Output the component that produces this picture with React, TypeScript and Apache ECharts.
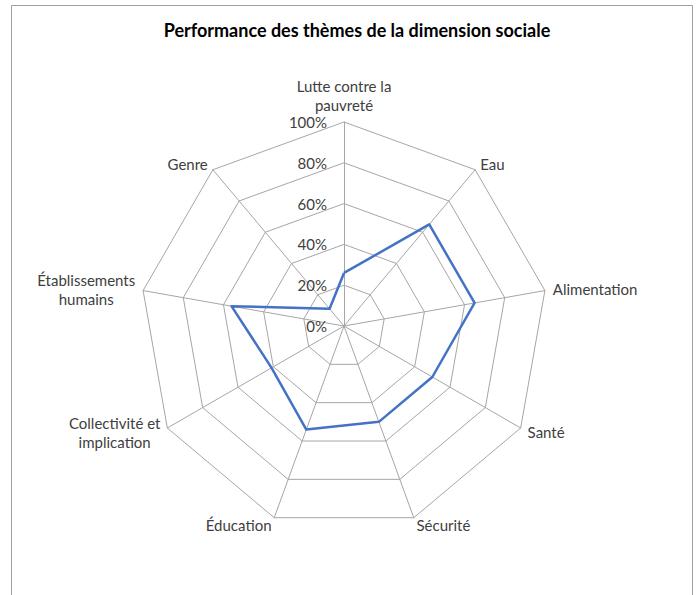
import React, { useEffect, useRef } from 'react';
import * as echarts from 'echarts';

const chartTitle = 'Performance des thèmes de la dimension sociale';
const themes = [
  'Lutte contre la\npauvreté',
  'Eau',
  'Alimentation',
  'Santé',
  'Sécurité',
  'Éducation',
  'Collectivité et\nimplication',
  'Établissements\nhumains',
  'Genre',
];
const scores = [0.26, 0.65, 0.65, 0.5, 0.5, 0.54, 0.41, 0.56, 0.11];
const tickLabels = ['0%', '20%', '40%', '60%', '80%', '100%'];

// ECharts lays indicators out counter-clockwise; reorder so they read clockwise.
const order = [0, 8, 7, 6, 5, 4, 3, 2, 1];

export default function App() {
  const ref = useRef<HTMLDivElement>(null);
  useEffect(() => {
    if (!ref.current) return;
    const chart = echarts.init(ref.current, undefined, { renderer: 'svg' });
    const font = 'Lato, "Noto Sans", sans-serif';
    chart.setOption({
      animation: false,
      backgroundColor: '#ffffff',
      title: {
        text: chartTitle,
        left: 352,
        top: 16,
        textAlign: 'center',
        textStyle: { fontFamily: font, fontSize: 18, fontWeight: 'bold', color: '#000000' },
      },
      graphic: [
        {
          type: 'rect',
          shape: { x: 11.5, y: 5.5, width: 681, height: 600 },
          style: { fill: 'none', stroke: '#a0a0a0', lineWidth: 1 },
          silent: true,
          z: -1,
        },
      ],
      radar: {
        center: [344, 326],
        radius: 204,
        startAngle: 90,
        splitNumber: 5,
        shape: 'polygon',
        nameGap: 8,
        indicator: order.map((i, k) => ({
          name: themes[i],
          min: 0,
          max: 1,
          axisLabel: { show: k === 0 },
        })),
        axisName: {
          color: '#404040',
          fontSize: 15,
          fontFamily: font,
          lineHeight: 19,
          formatter: (name: string) =>
            name
              .split('\n')
              .map((s) => `{c|${s}}`)
              .join('\n'),
          rich: {
            c: {
              align: 'center',
              color: '#404040',
              fontSize: 15,
              fontFamily: font,
              lineHeight: 19,
            },
          },
        },
        axisLine: { lineStyle: { color: '#a6a6a6', width: 1 } },
        splitLine: { lineStyle: { color: '#a6a6a6', width: 1 } },
        splitArea: { show: false },
        axisTick: { show: false },
        axisLabel: {
          show: true,
          color: '#404040',
          fontSize: 15,
          fontFamily: font,
          margin: 17,
          formatter: (v: number) => tickLabels[Math.round(v * 5)] ?? '',
        },
      },
      series: [
        {
          type: 'radar',
          symbol: 'none',
          lineStyle: { color: '#4472C4', width: 2.5 },
          data: [{ value: order.map((i) => scores[i]), name: 'Performance' }],
        },
      ],
    });
    return () => chart.dispose();
  }, []);
  return (
    <div
      ref={ref}
      style={{ position: 'absolute', left: 0, top: 0, width: 697, height: 595 }}
    />
  );
}
